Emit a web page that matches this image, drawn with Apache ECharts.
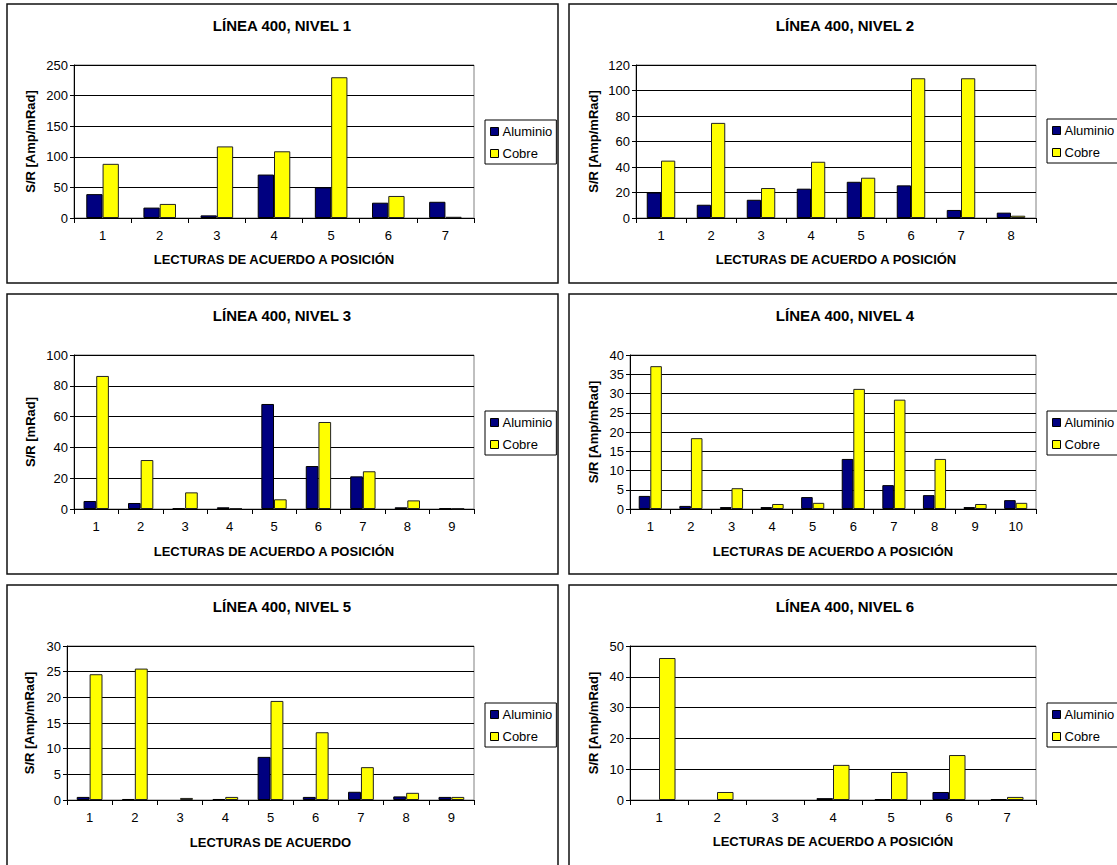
<!DOCTYPE html>
<html><head><meta charset="utf-8">
<script src="https://cdn.jsdelivr.net/npm/echarts@6/dist/echarts.min.js"></script>
<style>html,body{margin:0;padding:0;background:#fff}#c{width:1117px;height:865px}</style>
</head><body><div id="c"></div>
<script>
const panelTitles = ['LÍNEA 400, NIVEL 1','LÍNEA 400, NIVEL 2','LÍNEA 400, NIVEL 3','LÍNEA 400, NIVEL 4','LÍNEA 400, NIVEL 5','LÍNEA 400, NIVEL 6'];
const xAxisTitles = ['LECTURAS DE ACUERDO A POSICIÓN','LECTURAS DE ACUERDO A POSICIÓN','LECTURAS DE ACUERDO A POSICIÓN','LECTURAS DE ACUERDO A POSICIÓN','LECTURAS DE ACUERDO','LECTURAS DE ACUERDO A POSICIÓN'];
const yAxisTitles = ['S/R [Amp/mRad]','S/R [Amp/mRad]','S/R [mRad]','S/R [Amp/mRad]','S/R [Amp/mRad]','S/R [Amp/mRad]'];
const seriesNames = ['Aluminio','Cobre'];

const cats1 = ['1','2','3','4','5','6','7'];
const alum1 = [39, 17, 4.3, 71, 50, 25, 26.5];
const cobre1 = [88.5, 23, 117, 109, 230, 36, 2];

const cats2 = ['1','2','3','4','5','6','7','8'];
const alum2 = [20, 10.4, 14.3, 23, 28.4, 25.6, 6.3, 4.2];
const cobre2 = [45, 74.6, 23.5, 44.1, 31.6, 109.6, 109.6, 1.8];

const cats3 = ['1','2','3','4','5','6','7','8','9'];
const alum3 = [5.2, 3.9, 0.4, 1.1, 68.2, 27.9, 21.2, 1.1, 0.4];
const cobre3 = [86.4, 31.8, 10.8, 0.4, 6.3, 56.5, 24.5, 5.6, 0.4];

const cats4 = ['1','2','3','4','5','6','7','8','9','10'];
const alum4 = [3.4, 0.8, 0.5, 0.5, 3.1, 13.0, 6.2, 3.6, 0.5, 2.3];
const cobre4 = [37.1, 18.4, 5.4, 1.3, 1.6, 31.2, 28.4, 13.0, 1.3, 1.6];

const cats5 = ['1','2','3','4','5','6','7','8','9'];
const alum5 = [0.6, 0.2, 0, 0.2, 8.4, 0.6, 1.6, 0.7, 0.6];
const cobre5 = [24.5, 25.6, 0.4, 0.6, 19.3, 13.2, 6.4, 1.4, 0.6];

const cats6 = ['1','2','3','4','5','6','7'];
const alum6 = [0, 0, 0, 0.6, 0.3, 2.6, 0.3];
const cobre6 = [46.1, 2.6, 0, 11.4, 9.1, 14.6, 1.0];

const yMaxes = [250, 120, 100, 40, 30, 50];
const yIntervals = [50, 20, 20, 5, 5, 10];

const allCats = [cats1, cats2, cats3, cats4, cats5, cats6];
const allAlum = [alum1, alum2, alum3, alum4, alum5, alum6];
const allCobre = [cobre1, cobre2, cobre3, cobre4, cobre5, cobre6];

// layout (pixels)
const layout = [
  {box:[7,4,558,283],   grid:[74,65,474,218],   legend:[485,120], title:[282,25],  xname:260, yname:30},
  {box:[569,4,1123,283],grid:[636,65,1036,218], legend:[1047,119],title:[845,25],  xname:260, yname:593},
  {box:[7,294,558,574], grid:[74,355,474,509],  legend:[485,411], title:[282,315], xname:552, yname:30},
  {box:[569,294,1123,574],grid:[630,355,1036,509],legend:[1047,411],title:[845,315],xname:552, yname:593},
  {box:[7,585,558,880], grid:[67,646,474,800],  legend:[485,703], title:[282,606], xname:843, yname:29},
  {box:[569,585,1123,880],grid:[630,646,1036,800],legend:[1047,703],title:[845,606],xname:842, yname:593}
];

const FONT = '"Liberation Sans", Arial, sans-serif';
const NAVY = '#000080', YELLOW = '#FFFF00';

// zero-valued bars get no outline (as in the original, where they are invisible)
const toBarData = arr => arr.map(v => v === 0 ? {value:0, itemStyle:{borderWidth:0}} : v);

const grids = [], xAxes = [], yAxes = [], series = [], legends = [], graphics = [];
layout.forEach((L, i) => {
  const [gx0, gy0, gx1, gy1] = L.grid;
  graphics.push({type:'rect', silent:true, z:0,
    shape:{x:L.box[0], y:L.box[1], width:L.box[2]-L.box[0], height:L.box[3]-L.box[1]},
    style:{fill:'none', stroke:'#111', lineWidth:1.5}});
  graphics.push({type:'text', silent:true, x:L.title[0], y:L.title[1],
    style:{text:panelTitles[i], fill:'#000', font:'bold 15px ' + FONT, textAlign:'center', textVerticalAlign:'middle'}});
  grids.push({left:gx0, top:gy0, width:gx1-gx0, height:gy1-gy0, show:true,
    borderColor:'#808080', borderWidth:1, backgroundColor:'#fff', containLabel:false});
  xAxes.push({type:'category', gridIndex:i, data:allCats[i], boundaryGap:true,
    name:xAxisTitles[i], nameLocation:'middle', nameGap:L.xname - gy1 - 7,
    nameTextStyle:{fontFamily:FONT, fontWeight:'bold', fontSize:13, color:'#000'},
    axisLine:{show:true, lineStyle:{color:'#000', width:1}},
    axisTick:{show:true, alignWithLabel:false, length:5, lineStyle:{color:'#000'}},
    axisLabel:{fontFamily:FONT, fontSize:13, color:'#000', margin:11},
    splitLine:{show:false}});
  yAxes.push({type:'value', gridIndex:i, min:0, max:yMaxes[i], interval:yIntervals[i],
    name:yAxisTitles[i], nameLocation:'middle', nameGap:gx0 - L.yname - 7,
    nameTextStyle:{fontFamily:FONT, fontWeight:'bold', fontSize:13, color:'#000'},
    axisLine:{show:true, lineStyle:{color:'#000', width:1}},
    axisTick:{show:true, length:4, lineStyle:{color:'#000'}},
    axisLabel:{fontFamily:FONT, fontSize:13, color:'#000', margin:6},
    splitLine:{show:true, lineStyle:{color:'#000', width:1}}});
  series.push({type:'bar', name:seriesNames[0], xAxisIndex:i, yAxisIndex:i, data:toBarData(allAlum[i]),
    barGap:'0%', barCategoryGap:'43%', animation:false,
    itemStyle:{color:NAVY, borderColor:'#000', borderWidth:1}});
  series.push({type:'bar', name:seriesNames[1], xAxisIndex:i, yAxisIndex:i, data:toBarData(allCobre[i]),
    barGap:'0%', barCategoryGap:'43%', animation:false,
    itemStyle:{color:YELLOW, borderColor:'#222', borderWidth:1}});
  legends.push({orient:'vertical', left:L.legend[0], top:L.legend[1], data:seriesNames,
    icon:'rect', itemWidth:8, itemHeight:8, itemGap:9, padding:[5,4,4,5],
    borderColor:'#000', borderWidth:1, backgroundColor:'#fff', selectedMode:false,
    itemStyle:{borderColor:'#000', borderWidth:1},
    textStyle:{fontFamily:FONT, fontSize:13, color:'#000', lineHeight:13, padding:[0,0,0,-1]}});
});

const chart = echarts.init(document.getElementById('c'), null, {renderer:'svg'});
chart.setOption({
  animation:false,
  backgroundColor:'#fff',
  textStyle:{fontFamily:FONT},
  grid:grids, xAxis:xAxes, yAxis:yAxes, series:series, legend:legends,
  graphic:{elements:graphics}
});
</script></body></html>
